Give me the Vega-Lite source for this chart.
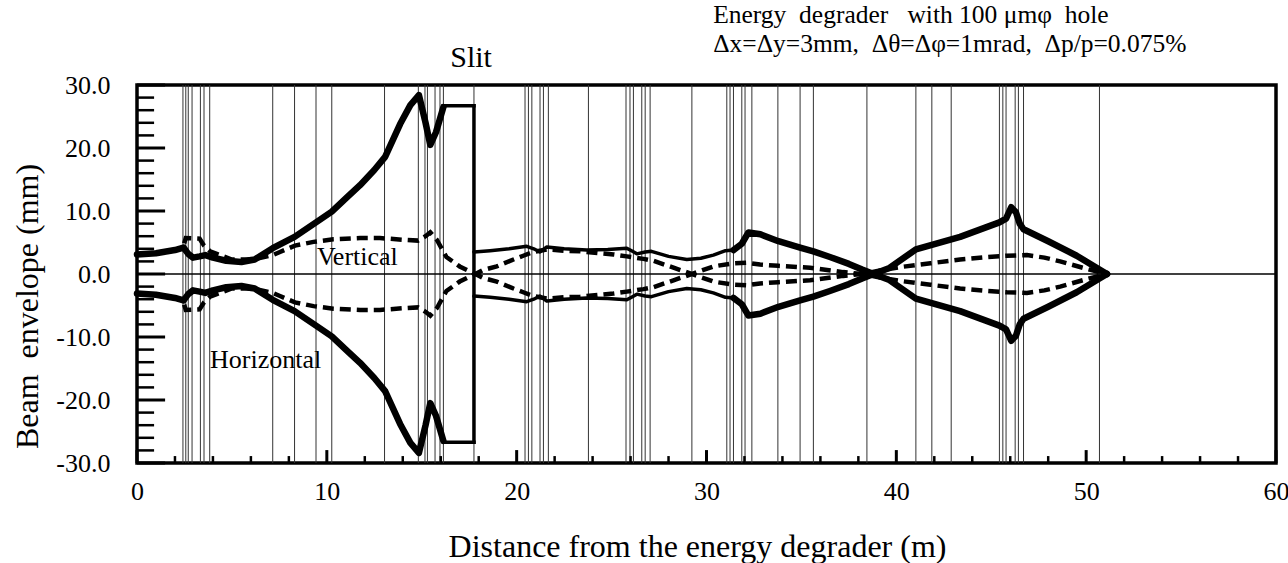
{
  "$schema": "https://vega.github.io/schema/vega-lite/v6.json",
  "width": 1139,
  "height": 378,
  "autosize": {"type": "none"},
  "padding": {"left": 137, "top": 85, "right": 12, "bottom": 100},
  "background": "white",
  "config": {
    "view": {"stroke": "black", "strokeWidth": 3.5},
    "font": "Liberation Serif",
    "style": {"guide-label": {"font": "Liberation Serif"}, "guide-title": {"font": "Liberation Serif"}},
    "axis": {"labelFont": "Liberation Serif", "titleFont": "Liberation Serif", "labelColor": "black", "titleColor": "black", "titleFontWeight": "normal", "domain": false, "grid": false, "ticks": false, "labelOverlap": false, "labelFlush": false, "labelBound": false}
  },
  "datasets": {
    "xmajor": [{"x": 0}, {"x": 10}, {"x": 20}, {"x": 30}, {"x": 40}, {"x": 50}, {"x": 60}],
    "xminor": [{"x": 2}, {"x": 4}, {"x": 6}, {"x": 8}, {"x": 12}, {"x": 14}, {"x": 16}, {"x": 18}, {"x": 22}, {"x": 24}, {"x": 26}, {"x": 28}, {"x": 32}, {"x": 34}, {"x": 36}, {"x": 38}, {"x": 42}, {"x": 44}, {"x": 46}, {"x": 48}, {"x": 52}, {"x": 54}, {"x": 56}, {"x": 58}],
    "ymajor": [{"y": -30}, {"y": -20}, {"y": -10}, {"y": 0}, {"y": 10}, {"y": 20}, {"y": 30}],
    "yminor": [{"y": -28}, {"y": -26}, {"y": -24}, {"y": -22}, {"y": -18}, {"y": -16}, {"y": -14}, {"y": -12}, {"y": -8}, {"y": -6}, {"y": -4}, {"y": -2}, {"y": 2}, {"y": 4}, {"y": 6}, {"y": 8}, {"y": 12}, {"y": 14}, {"y": 16}, {"y": 18}, {"y": 22}, {"y": 24}, {"y": 26}, {"y": 28}],
    "elements": [
      {"x": 2.42}, {"x": 2.57}, {"x": 2.7}, {"x": 2.9}, {"x": 3.34}, {"x": 3.53}, {"x": 3.83}, {"x": 7.15}, {"x": 8.3}, {"x": 9.43}, {"x": 10.26}, {"x": 13.04}, {"x": 14.82}, {"x": 15.17}, {"x": 15.3}, {"x": 15.7}, {"x": 15.96}, {"x": 16.14}, {"x": 17.75}, {"x": 20.44}, {"x": 20.62}, {"x": 20.8}, {"x": 21.23}, {"x": 21.41}, {"x": 21.67}, {"x": 23.78}, {"x": 25.76}, {"x": 25.97}, {"x": 26.15}, {"x": 26.59}, {"x": 26.77}, {"x": 27.03}, {"x": 29.23}, {"x": 31.07}, {"x": 31.24}, {"x": 31.42}, {"x": 31.86}, {"x": 32.03}, {"x": 32.39}, {"x": 33.76}, {"x": 34.93}, {"x": 35.63}, {"x": 38.45}, {"x": 41.03}, {"x": 41.87}, {"x": 42.89}, {"x": 45.43}, {"x": 45.61}, {"x": 45.78}, {"x": 46.26}, {"x": 46.43}, {"x": 46.7}, {"x": 50.7}
    ],
    "zero": [{"y": 0}],
    "slit": [
      {"x": 16.14, "x2": 17.75, "y": 26.7, "y2": 26.7},
      {"x": 16.14, "x2": 17.75, "y": -26.7, "y2": -26.7},
      {"x": 17.75, "x2": 17.75, "y": -26.7, "y2": 26.7}
    ],
    "labels": [
      {"x": 9.48, "y": 1.43, "text": "Vertical"},
      {"x": 3.85, "y": -14.9, "text": "Horizontal"}
    ],
    "slitlabel": [{"x": 17.6, "y": 32.9, "text": "Slit"}],
    "header": [
      {"x": 30.35, "y": 39.84, "text": "Energy\u00a0 degrader\u00a0\u00a0 with 100 μmφ\u00a0 hole"},
      {"x": 30.35, "y": 35.24, "text": "Δx=Δy=3mm,\u00a0 Δθ=Δφ=1mrad,\u00a0 Δp/p=0.075%"}
    ],
    "env": [
      {"curve": "Hu1", "x": 0, "y": 3.1}, {"curve": "Hu1", "x": 1, "y": 3.3}, {"curve": "Hu1", "x": 2, "y": 3.8}, {"curve": "Hu1", "x": 2.45, "y": 4.2}, {"curve": "Hu1", "x": 2.7, "y": 3.2}, {"curve": "Hu1", "x": 2.95, "y": 2.6}, {"curve": "Hu1", "x": 3.3, "y": 2.8}, {"curve": "Hu1", "x": 3.6, "y": 3.0}, {"curve": "Hu1", "x": 4.0, "y": 2.6}, {"curve": "Hu1", "x": 4.7, "y": 2.1}, {"curve": "Hu1", "x": 5.5, "y": 1.9}, {"curve": "Hu1", "x": 6.2, "y": 2.3}, {"curve": "Hu1", "x": 7.15, "y": 4.1}, {"curve": "Hu1", "x": 8.3, "y": 5.9}, {"curve": "Hu1", "x": 9.43, "y": 8.2}, {"curve": "Hu1", "x": 10.26, "y": 9.9}, {"curve": "Hu1", "x": 11.0, "y": 12.0}, {"curve": "Hu1", "x": 11.75, "y": 14.1}, {"curve": "Hu1", "x": 12.5, "y": 16.5}, {"curve": "Hu1", "x": 13.07, "y": 18.6}, {"curve": "Hu1", "x": 13.86, "y": 23.8}, {"curve": "Hu1", "x": 14.4, "y": 26.8}, {"curve": "Hu1", "x": 14.85, "y": 28.4}, {"curve": "Hu1", "x": 15.2, "y": 24.0}, {"curve": "Hu1", "x": 15.45, "y": 20.5}, {"curve": "Hu1", "x": 15.75, "y": 22.5}, {"curve": "Hu1", "x": 16.14, "y": 26.5},
      {"curve": "Hl1", "x": 0, "y": -3.1}, {"curve": "Hl1", "x": 1, "y": -3.3}, {"curve": "Hl1", "x": 2, "y": -3.8}, {"curve": "Hl1", "x": 2.45, "y": -4.2}, {"curve": "Hl1", "x": 2.7, "y": -3.2}, {"curve": "Hl1", "x": 2.95, "y": -2.6}, {"curve": "Hl1", "x": 3.3, "y": -2.8}, {"curve": "Hl1", "x": 3.6, "y": -3.0}, {"curve": "Hl1", "x": 4.0, "y": -2.6}, {"curve": "Hl1", "x": 4.7, "y": -2.1}, {"curve": "Hl1", "x": 5.5, "y": -1.9}, {"curve": "Hl1", "x": 6.2, "y": -2.3}, {"curve": "Hl1", "x": 7.15, "y": -4.1}, {"curve": "Hl1", "x": 8.3, "y": -5.9}, {"curve": "Hl1", "x": 9.43, "y": -8.2}, {"curve": "Hl1", "x": 10.26, "y": -9.9}, {"curve": "Hl1", "x": 11.0, "y": -12.0}, {"curve": "Hl1", "x": 11.75, "y": -14.1}, {"curve": "Hl1", "x": 12.5, "y": -16.5}, {"curve": "Hl1", "x": 13.07, "y": -18.6}, {"curve": "Hl1", "x": 13.86, "y": -23.8}, {"curve": "Hl1", "x": 14.4, "y": -26.8}, {"curve": "Hl1", "x": 14.85, "y": -28.4}, {"curve": "Hl1", "x": 15.2, "y": -24.0}, {"curve": "Hl1", "x": 15.45, "y": -20.5}, {"curve": "Hl1", "x": 15.75, "y": -22.5}, {"curve": "Hl1", "x": 16.14, "y": -26.5},
      {"curve": "Hu2", "x": 17.75, "y": 3.5}, {"curve": "Hu2", "x": 18.6, "y": 3.7}, {"curve": "Hu2", "x": 19.6, "y": 4.0}, {"curve": "Hu2", "x": 20.53, "y": 4.4}, {"curve": "Hu2", "x": 20.9, "y": 4.0}, {"curve": "Hu2", "x": 21.23, "y": 3.5}, {"curve": "Hu2", "x": 21.59, "y": 4.3}, {"curve": "Hu2", "x": 22.5, "y": 4.0}, {"curve": "Hu2", "x": 23.69, "y": 3.8}, {"curve": "Hu2", "x": 24.8, "y": 3.9}, {"curve": "Hu2", "x": 25.8, "y": 4.1}, {"curve": "Hu2", "x": 26.1, "y": 3.6}, {"curve": "Hu2", "x": 26.33, "y": 3.2}, {"curve": "Hu2", "x": 26.77, "y": 3.5}, {"curve": "Hu2", "x": 27.1, "y": 3.6}, {"curve": "Hu2", "x": 28.0, "y": 2.8}, {"curve": "Hu2", "x": 28.96, "y": 2.3}, {"curve": "Hu2", "x": 29.7, "y": 2.5}, {"curve": "Hu2", "x": 30.36, "y": 3.0}, {"curve": "Hu2", "x": 31.0, "y": 3.7}, {"curve": "Hu2", "x": 31.42, "y": 3.8},
      {"curve": "Hl2", "x": 17.75, "y": -3.5}, {"curve": "Hl2", "x": 18.6, "y": -3.7}, {"curve": "Hl2", "x": 19.6, "y": -4.0}, {"curve": "Hl2", "x": 20.53, "y": -4.4}, {"curve": "Hl2", "x": 20.9, "y": -4.0}, {"curve": "Hl2", "x": 21.23, "y": -3.5}, {"curve": "Hl2", "x": 21.59, "y": -4.3}, {"curve": "Hl2", "x": 22.5, "y": -4.0}, {"curve": "Hl2", "x": 23.69, "y": -3.8}, {"curve": "Hl2", "x": 24.8, "y": -3.9}, {"curve": "Hl2", "x": 25.8, "y": -4.1}, {"curve": "Hl2", "x": 26.1, "y": -3.6}, {"curve": "Hl2", "x": 26.33, "y": -3.2}, {"curve": "Hl2", "x": 26.77, "y": -3.5}, {"curve": "Hl2", "x": 27.1, "y": -3.6}, {"curve": "Hl2", "x": 28.0, "y": -2.8}, {"curve": "Hl2", "x": 28.96, "y": -2.3}, {"curve": "Hl2", "x": 29.7, "y": -2.5}, {"curve": "Hl2", "x": 30.36, "y": -3.0}, {"curve": "Hl2", "x": 31.0, "y": -3.7}, {"curve": "Hl2", "x": 31.42, "y": -3.8},
      {"curve": "Hu3", "x": 31.42, "y": 3.8}, {"curve": "Hu3", "x": 31.86, "y": 4.8}, {"curve": "Hu3", "x": 32.21, "y": 6.6}, {"curve": "Hu3", "x": 32.84, "y": 6.3}, {"curve": "Hu3", "x": 33.79, "y": 5.2}, {"curve": "Hu3", "x": 34.93, "y": 4.2}, {"curve": "Hu3", "x": 35.63, "y": 3.6}, {"curve": "Hu3", "x": 36.5, "y": 2.7}, {"curve": "Hu3", "x": 37.5, "y": 1.6}, {"curve": "Hu3", "x": 38.2, "y": 0.7}, {"curve": "Hu3", "x": 38.8, "y": 0}, {"curve": "Hu3", "x": 39.6, "y": -0.9}, {"curve": "Hu3", "x": 41.03, "y": -3.9}, {"curve": "Hu3", "x": 43.36, "y": -5.9}, {"curve": "Hu3", "x": 45.43, "y": -8.2}, {"curve": "Hu3", "x": 45.78, "y": -8.8}, {"curve": "Hu3", "x": 46.05, "y": -10.6}, {"curve": "Hu3", "x": 46.3, "y": -9.8}, {"curve": "Hu3", "x": 46.5, "y": -8.0}, {"curve": "Hu3", "x": 46.7, "y": -7.1}, {"curve": "Hu3", "x": 48.0, "y": -5.2}, {"curve": "Hu3", "x": 49.5, "y": -2.9}, {"curve": "Hu3", "x": 50.7, "y": -0.7}, {"curve": "Hu3", "x": 51.1, "y": 0},
      {"curve": "Hl3", "x": 31.42, "y": -3.8}, {"curve": "Hl3", "x": 31.86, "y": -4.8}, {"curve": "Hl3", "x": 32.21, "y": -6.6}, {"curve": "Hl3", "x": 32.84, "y": -6.3}, {"curve": "Hl3", "x": 33.79, "y": -5.2}, {"curve": "Hl3", "x": 34.93, "y": -4.2}, {"curve": "Hl3", "x": 35.63, "y": -3.6}, {"curve": "Hl3", "x": 36.5, "y": -2.7}, {"curve": "Hl3", "x": 37.5, "y": -1.6}, {"curve": "Hl3", "x": 38.2, "y": -0.7}, {"curve": "Hl3", "x": 38.8, "y": 0}, {"curve": "Hl3", "x": 39.6, "y": 0.9}, {"curve": "Hl3", "x": 41.03, "y": 3.9}, {"curve": "Hl3", "x": 43.36, "y": 5.9}, {"curve": "Hl3", "x": 45.43, "y": 8.2}, {"curve": "Hl3", "x": 45.78, "y": 8.8}, {"curve": "Hl3", "x": 46.05, "y": 10.6}, {"curve": "Hl3", "x": 46.3, "y": 9.8}, {"curve": "Hl3", "x": 46.5, "y": 8.0}, {"curve": "Hl3", "x": 46.7, "y": 7.1}, {"curve": "Hl3", "x": 48.0, "y": 5.2}, {"curve": "Hl3", "x": 49.5, "y": 2.9}, {"curve": "Hl3", "x": 50.7, "y": 0.7}, {"curve": "Hl3", "x": 51.1, "y": 0},
      {"curve": "Vu", "x": 0, "y": 3.0}, {"curve": "Vu", "x": 1, "y": 3.3}, {"curve": "Vu", "x": 2, "y": 3.8}, {"curve": "Vu", "x": 2.42, "y": 4.2}, {"curve": "Vu", "x": 2.57, "y": 5.7}, {"curve": "Vu", "x": 3.3, "y": 5.6}, {"curve": "Vu", "x": 3.53, "y": 4.5}, {"curve": "Vu", "x": 3.85, "y": 3.6}, {"curve": "Vu", "x": 4.2, "y": 3.2}, {"curve": "Vu", "x": 5.0, "y": 2.3}, {"curve": "Vu", "x": 5.8, "y": 2.3}, {"curve": "Vu", "x": 6.4, "y": 2.5}, {"curve": "Vu", "x": 7.15, "y": 3.0}, {"curve": "Vu", "x": 7.53, "y": 3.5}, {"curve": "Vu", "x": 8.32, "y": 4.5}, {"curve": "Vu", "x": 9.3, "y": 5.1}, {"curve": "Vu", "x": 10.34, "y": 5.5}, {"curve": "Vu", "x": 11.75, "y": 5.7}, {"curve": "Vu", "x": 12.8, "y": 5.7}, {"curve": "Vu", "x": 14.2, "y": 5.4}, {"curve": "Vu", "x": 14.8, "y": 5.3}, {"curve": "Vu", "x": 15.2, "y": 6.0}, {"curve": "Vu", "x": 15.45, "y": 6.6}, {"curve": "Vu", "x": 15.8, "y": 5.4}, {"curve": "Vu", "x": 16.3, "y": 2.7}, {"curve": "Vu", "x": 17.0, "y": 1.2}, {"curve": "Vu", "x": 17.75, "y": 0.1}, {"curve": "Vu", "x": 18.2, "y": -0.6}, {"curve": "Vu", "x": 18.95, "y": -1.2}, {"curve": "Vu", "x": 19.83, "y": -2.3}, {"curve": "Vu", "x": 20.35, "y": -2.9}, {"curve": "Vu", "x": 20.88, "y": -3.5}, {"curve": "Vu", "x": 21.59, "y": -3.9}, {"curve": "Vu", "x": 22.5, "y": -3.7}, {"curve": "Vu", "x": 23.34, "y": -3.6}, {"curve": "Vu", "x": 25.1, "y": -3.1}, {"curve": "Vu", "x": 25.8, "y": -2.8}, {"curve": "Vu", "x": 26.68, "y": -2.4}, {"curve": "Vu", "x": 27.2, "y": -2.1}, {"curve": "Vu", "x": 28.26, "y": -1.0}, {"curve": "Vu", "x": 29.14, "y": -0.1}, {"curve": "Vu", "x": 29.8, "y": 0.6}, {"curve": "Vu", "x": 30.36, "y": 1.2}, {"curve": "Vu", "x": 31.4, "y": 1.7}, {"curve": "Vu", "x": 32.12, "y": 1.8}, {"curve": "Vu", "x": 32.82, "y": 1.5}, {"curve": "Vu", "x": 33.79, "y": 1.3}, {"curve": "Vu", "x": 35.46, "y": 1.0}, {"curve": "Vu", "x": 37.2, "y": 0.3}, {"curve": "Vu", "x": 38.2, "y": 0}, {"curve": "Vu", "x": 39.2, "y": -0.6}, {"curve": "Vu", "x": 40.2, "y": -1.1}, {"curve": "Vu", "x": 41.8, "y": -1.7}, {"curve": "Vu", "x": 43.36, "y": -2.3}, {"curve": "Vu", "x": 44.8, "y": -2.7}, {"curve": "Vu", "x": 45.82, "y": -2.9}, {"curve": "Vu", "x": 46.88, "y": -3.0}, {"curve": "Vu", "x": 47.8, "y": -2.6}, {"curve": "Vu", "x": 48.63, "y": -2.0}, {"curve": "Vu", "x": 50.04, "y": -0.8}, {"curve": "Vu", "x": 51.1, "y": 0},
      {"curve": "Vl", "x": 0, "y": -3.0}, {"curve": "Vl", "x": 1, "y": -3.3}, {"curve": "Vl", "x": 2, "y": -3.8}, {"curve": "Vl", "x": 2.42, "y": -4.2}, {"curve": "Vl", "x": 2.57, "y": -5.7}, {"curve": "Vl", "x": 3.3, "y": -5.6}, {"curve": "Vl", "x": 3.53, "y": -4.5}, {"curve": "Vl", "x": 3.85, "y": -3.6}, {"curve": "Vl", "x": 4.2, "y": -3.2}, {"curve": "Vl", "x": 5.0, "y": -2.3}, {"curve": "Vl", "x": 5.8, "y": -2.3}, {"curve": "Vl", "x": 6.4, "y": -2.5}, {"curve": "Vl", "x": 7.15, "y": -3.0}, {"curve": "Vl", "x": 7.53, "y": -3.5}, {"curve": "Vl", "x": 8.32, "y": -4.5}, {"curve": "Vl", "x": 9.3, "y": -5.1}, {"curve": "Vl", "x": 10.34, "y": -5.5}, {"curve": "Vl", "x": 11.75, "y": -5.7}, {"curve": "Vl", "x": 12.8, "y": -5.7}, {"curve": "Vl", "x": 14.2, "y": -5.4}, {"curve": "Vl", "x": 14.8, "y": -5.3}, {"curve": "Vl", "x": 15.2, "y": -6.0}, {"curve": "Vl", "x": 15.45, "y": -6.6}, {"curve": "Vl", "x": 15.8, "y": -5.4}, {"curve": "Vl", "x": 16.3, "y": -2.7}, {"curve": "Vl", "x": 17.0, "y": -1.2}, {"curve": "Vl", "x": 17.75, "y": -0.1}, {"curve": "Vl", "x": 18.2, "y": 0.6}, {"curve": "Vl", "x": 18.95, "y": 1.2}, {"curve": "Vl", "x": 19.83, "y": 2.3}, {"curve": "Vl", "x": 20.35, "y": 2.9}, {"curve": "Vl", "x": 20.88, "y": 3.5}, {"curve": "Vl", "x": 21.59, "y": 3.9}, {"curve": "Vl", "x": 22.5, "y": 3.7}, {"curve": "Vl", "x": 23.34, "y": 3.6}, {"curve": "Vl", "x": 25.1, "y": 3.1}, {"curve": "Vl", "x": 25.8, "y": 2.8}, {"curve": "Vl", "x": 26.68, "y": 2.4}, {"curve": "Vl", "x": 27.2, "y": 2.1}, {"curve": "Vl", "x": 28.26, "y": 1.0}, {"curve": "Vl", "x": 29.14, "y": 0.1}, {"curve": "Vl", "x": 29.8, "y": -0.6}, {"curve": "Vl", "x": 30.36, "y": -1.2}, {"curve": "Vl", "x": 31.4, "y": -1.7}, {"curve": "Vl", "x": 32.12, "y": -1.8}, {"curve": "Vl", "x": 32.82, "y": -1.5}, {"curve": "Vl", "x": 33.79, "y": -1.3}, {"curve": "Vl", "x": 35.46, "y": -1.0}, {"curve": "Vl", "x": 37.2, "y": -0.3}, {"curve": "Vl", "x": 38.2, "y": 0}, {"curve": "Vl", "x": 39.2, "y": 0.6}, {"curve": "Vl", "x": 40.2, "y": 1.1}, {"curve": "Vl", "x": 41.8, "y": 1.7}, {"curve": "Vl", "x": 43.36, "y": 2.3}, {"curve": "Vl", "x": 44.8, "y": 2.7}, {"curve": "Vl", "x": 45.82, "y": 2.9}, {"curve": "Vl", "x": 46.88, "y": 3.0}, {"curve": "Vl", "x": 47.8, "y": 2.6}, {"curve": "Vl", "x": 48.63, "y": 2.0}, {"curve": "Vl", "x": 50.04, "y": 0.8}, {"curve": "Vl", "x": 51.1, "y": 0}
    ]
  },
  "layer": [
    {
      "data": {"name": "elements"},
      "mark": {"type": "rule", "color": "#333333", "strokeWidth": 1},
      "encoding": {
        "x": {
          "field": "x", "type": "quantitative",
          "scale": {"domain": [0, 60], "nice": false, "zero": false},
          "axis": {
            "title": "Distance from the energy degrader (m)",
            "values": [0, 10, 20, 30, 40, 50, 60],
            "format": "d",
            "ticks": false,
            "labelPadding": 15,
            "labelFont": "Liberation Serif",
            "labelFontSize": 26,
            "labelOverlap": false,
            "titleFont": "Liberation Serif",
            "titleFontSize": 32,
            "titleX": 560,
            "titleY": 93,
            "titleAlign": "center",
            "titleBaseline": "alphabetic"
          }
        }
      }
    },
    {
      "data": {"name": "zero"},
      "mark": {"type": "rule", "color": "black", "strokeWidth": 1.5},
      "encoding": {
        "y": {
          "field": "y", "type": "quantitative",
          "scale": {"domain": [-30, 30], "nice": false, "zero": false},
          "axis": {
            "title": "Beam\u00a0 envelope (mm)",
            "values": [-30, -20, -10, 0, 10, 20, 30],
            "labelExpr": "replace(format(datum.value, '.1f'), '\u2212', '-')",
            "ticks": false,
            "labelPadding": 27,
            "labelFont": "Liberation Serif",
            "labelFontSize": 26,
            "labelOverlap": false,
            "titleFont": "Liberation Serif",
            "titleFontSize": 32,
            "titleX": -110,
            "titleY": 221,
            "titleAngle": -90,
            "titleAlign": "center",
            "titleBaseline": "middle"
          }
        }
      }
    },
    {
      "data": {"name": "xminor"},
      "mark": {"type": "rule", "color": "black", "strokeWidth": 2.5},
      "encoding": {
        "x": {"field": "x", "type": "quantitative", "scale": {"domain": [0, 60], "nice": false, "zero": false}},
        "y": {"datum": -30, "type": "quantitative", "scale": {"domain": [-30, 30], "nice": false, "zero": false}},
        "y2": {"datum": -28.9}
      }
    },
    {
      "data": {"name": "xmajor"},
      "mark": {"type": "rule", "color": "black", "strokeWidth": 3},
      "encoding": {
        "x": {"field": "x", "type": "quantitative", "scale": {"domain": [0, 60], "nice": false, "zero": false}},
        "y": {"datum": -30, "type": "quantitative", "scale": {"domain": [-30, 30], "nice": false, "zero": false}},
        "y2": {"datum": -27.95}
      }
    },
    {
      "data": {"name": "yminor"},
      "mark": {"type": "rule", "color": "black", "strokeWidth": 2.5},
      "encoding": {
        "y": {"field": "y", "type": "quantitative", "scale": {"domain": [-30, 30], "nice": false, "zero": false}},
        "x": {"datum": 0, "type": "quantitative", "scale": {"domain": [0, 60], "nice": false, "zero": false}},
        "x2": {"datum": 0.9}
      }
    },
    {
      "data": {"name": "ymajor"},
      "mark": {"type": "rule", "color": "black", "strokeWidth": 3},
      "encoding": {
        "y": {"field": "y", "type": "quantitative", "scale": {"domain": [-30, 30], "nice": false, "zero": false}},
        "x": {"datum": 0, "type": "quantitative", "scale": {"domain": [0, 60], "nice": false, "zero": false}},
        "x2": {"datum": 1.48}
      }
    },
    {
      "data": {"name": "env"},
      "transform": [{"filter": {"field": "curve", "oneOf": ["Vu", "Vl"]}}],
      "mark": {"type": "line", "color": "black", "strokeWidth": 4.5, "strokeDash": [11, 6]},
      "encoding": {
        "x": {"field": "x", "type": "quantitative", "scale": {"domain": [0, 60], "nice": false, "zero": false}},
        "y": {"field": "y", "type": "quantitative", "scale": {"domain": [-30, 30], "nice": false, "zero": false}},
        "detail": {"field": "curve"}
      }
    },
    {
      "data": {"name": "env"},
      "transform": [{"filter": {"field": "curve", "oneOf": ["Hu1", "Hl1", "Hu3", "Hl3"]}}],
      "mark": {"type": "line", "color": "black", "strokeWidth": 6.5, "strokeCap": "round", "strokeJoin": "round"},
      "encoding": {
        "x": {"field": "x", "type": "quantitative", "scale": {"domain": [0, 60], "nice": false, "zero": false}},
        "y": {"field": "y", "type": "quantitative", "scale": {"domain": [-30, 30], "nice": false, "zero": false}},
        "detail": {"field": "curve"}
      }
    },
    {
      "data": {"name": "env"},
      "transform": [{"filter": {"field": "curve", "oneOf": ["Hu2", "Hl2"]}}],
      "mark": {"type": "line", "color": "black", "strokeWidth": 3.5, "strokeCap": "round", "strokeJoin": "round"},
      "encoding": {
        "x": {"field": "x", "type": "quantitative", "scale": {"domain": [0, 60], "nice": false, "zero": false}},
        "y": {"field": "y", "type": "quantitative", "scale": {"domain": [-30, 30], "nice": false, "zero": false}},
        "detail": {"field": "curve"}
      }
    },
    {
      "data": {"name": "slit"},
      "mark": {"type": "rule", "color": "black", "strokeWidth": 3.5, "strokeCap": "square"},
      "encoding": {
        "x": {"field": "x", "type": "quantitative", "scale": {"domain": [0, 60], "nice": false, "zero": false}},
        "x2": {"field": "x2"},
        "y": {"field": "y", "type": "quantitative", "scale": {"domain": [-30, 30], "nice": false, "zero": false}},
        "y2": {"field": "y2"}
      }
    },
    {
      "data": {"name": "labels"},
      "mark": {"type": "text", "font": "Liberation Serif", "fontSize": 26, "align": "left", "baseline": "alphabetic", "color": "black"},
      "encoding": {
        "x": {"field": "x", "type": "quantitative", "scale": {"domain": [0, 60], "nice": false, "zero": false}},
        "y": {"field": "y", "type": "quantitative", "scale": {"domain": [-30, 30], "nice": false, "zero": false}},
        "text": {"field": "text"}
      }
    },
    {
      "data": {"name": "slitlabel"},
      "mark": {"type": "text", "font": "Liberation Serif", "fontSize": 30, "align": "center", "baseline": "alphabetic", "color": "black"},
      "encoding": {
        "x": {"field": "x", "type": "quantitative", "scale": {"domain": [0, 60], "nice": false, "zero": false}},
        "y": {"field": "y", "type": "quantitative", "scale": {"domain": [-30, 30], "nice": false, "zero": false}},
        "text": {"field": "text"}
      }
    },
    {
      "data": {"name": "header"},
      "mark": {"type": "text", "font": "Liberation Serif", "fontSize": 25.5, "align": "left", "baseline": "alphabetic", "color": "black"},
      "encoding": {
        "x": {"field": "x", "type": "quantitative", "scale": {"domain": [0, 60], "nice": false, "zero": false}},
        "y": {"field": "y", "type": "quantitative", "scale": {"domain": [-30, 30], "nice": false, "zero": false}},
        "text": {"field": "text"}
      }
    }
  ]
}
